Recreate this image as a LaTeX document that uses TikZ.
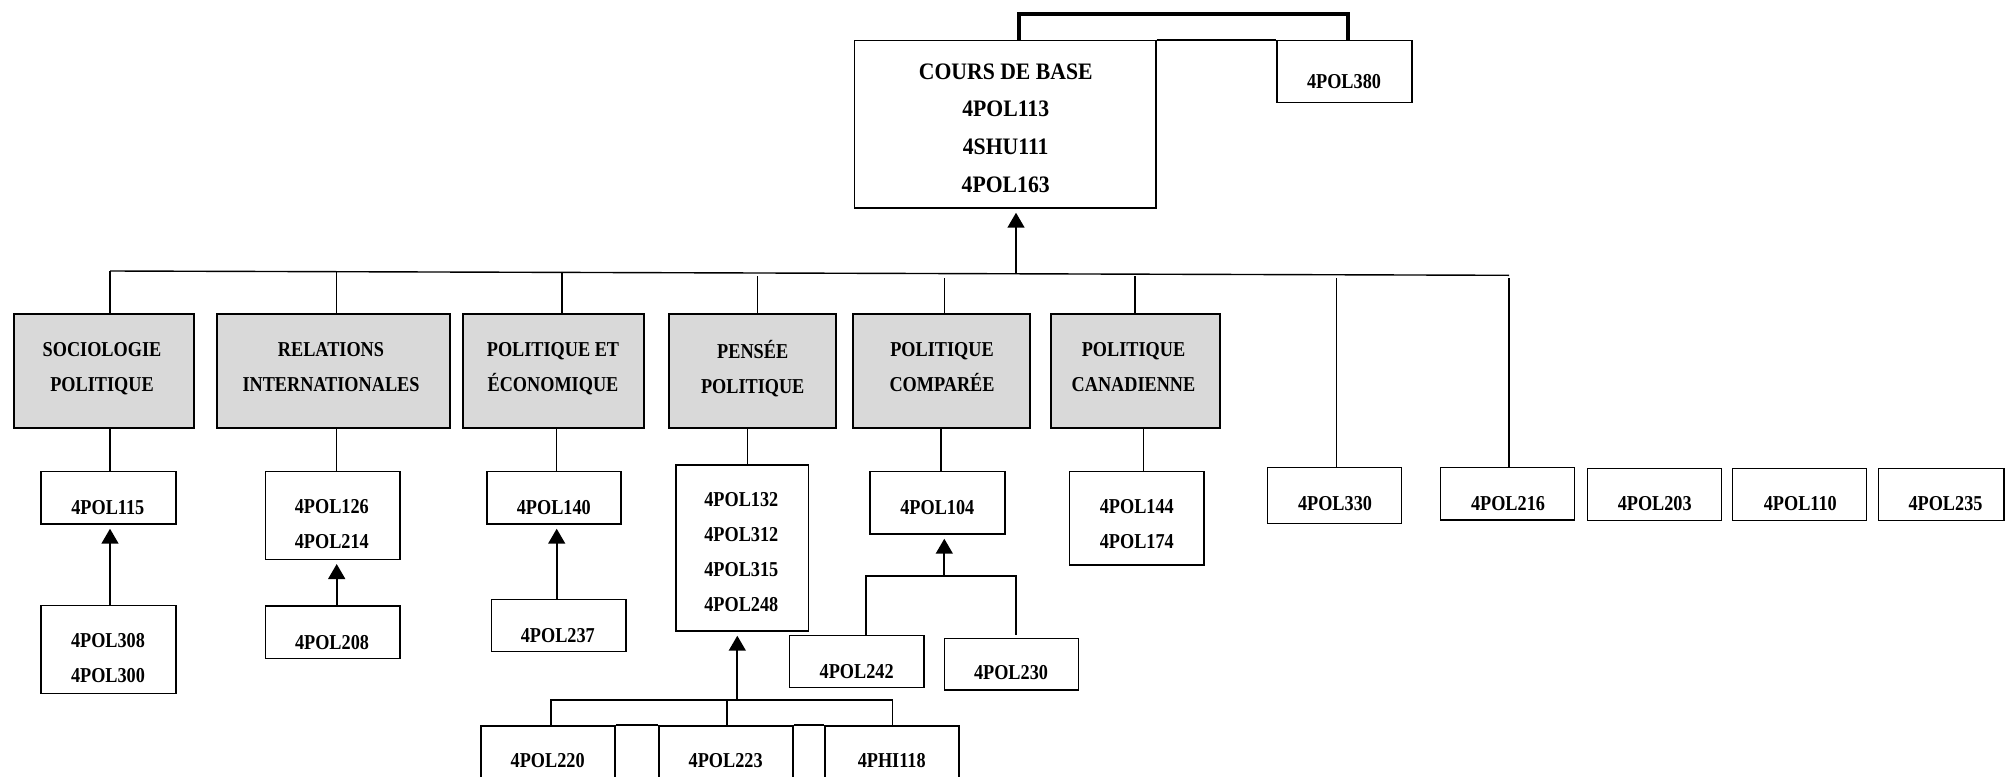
\documentclass[tikz,border=0pt]{standalone}
\usepackage{fontspec}
\newfontfamily\lbf{Liberation Serif}[FakeStretch=0.86]
\newfontfamily\bbf{Liberation Serif}[FakeStretch=0.92]
\usetikzlibrary{arrows.meta,fit}
\definecolor{boxgray}{RGB}{217,217,217}
\newcommand{\lst}{\rule[-3pt]{0pt}{10pt}}
\newcommand{\bst}{\rule[-3pt]{0pt}{10.8pt}}
\begin{document}
\begin{tikzpicture}[x={(0.5pt,0pt)},y={(0pt,-0.5pt)},
  box/.style={draw, line width=0.7pt, inner sep=0pt},
  gbox/.style={draw, fill=boxgray, line width=0.85pt, inner sep=0pt},
  lbl/.style={inner sep=0pt, align=center, yshift=-1.2pt, font=\lbf\bfseries\fontsize{10.6}{17.5}\selectfont},
  blbl/.style={inner sep=0pt, align=center, yshift=-1.3pt, font=\bbf\bfseries\fontsize{11.8}{18.9}\selectfont},
  conn/.style={line width=0.7pt},
  arr/.style={line width=1.1pt, -{Triangle[width=8.4pt,length=7.5pt]}, shorten >=2pt},
  brk/.style={line width=1.65pt}]
\clip (0,0) rectangle (2006,776);
\fill[white] (0,0) rectangle (2006,776);

% ---- top ----
\node[box, fit={(854.7,40.7) (1156,208)}] (base) {};
\node[blbl] (basel) at (1005.7,128.3) {\bst COURS DE BASE\\\bst 4POL113\\\bst 4SHU111\\\bst 4POL163};
\node[box, fit={(1277,40.7) (1412,102.7)}] (p380) {};
\node[lbl] (p380l) at (1344,82) {\lst 4POL380};
\draw[brk] (1019,0 |- base.north) -- (1019,14) -- (1348,14) -- (1348,0 |- p380.north);
\draw[box] (base.north east) -- (p380.north west);

% ---- bus ----
\coordinate (busL) at (110,271);
\coordinate (busR) at (1509,275.3);
\draw[conn] (busL) -- (busR);
\coordinate (busA) at (1016,273.8);
\draw[arr] (busA) -- (1016,0 |- base.south);

% ---- gray category boxes ----
\node[gbox, fit={(14,314) (194,428.3)}] (soc) {};
\node[lbl] (socl) at (102,367.5) {\lst SOCIOLOGIE\\\lst POLITIQUE};
\node[gbox, fit={(217,314) (450,428.3)}] (rel) {};
\node[lbl] (rell) at (331,367.5) {\lst RELATIONS\\\lst INTERNATIONALES};
\node[gbox, fit={(462.7,314) (644,428.3)}] (pe) {};
\node[lbl] (pel) at (553,367.5) {\lst POLITIQUE ET\\\lst ÉCONOMIQUE};
\node[gbox, fit={(669.3,314) (836,428.3)}] (pen) {};
\node[lbl] (penl) at (752.7,367.5) {\lst PENSÉE\\\lst POLITIQUE};
\node[gbox, fit={(853.3,314) (1030,428.3)}] (comp) {};
\node[lbl] (compl) at (942,367.5) {\lst POLITIQUE\\\lst COMPARÉE};
\node[gbox, fit={(1050.7,314) (1220,428.3)}] (can) {};
\node[lbl] (canl) at (1133.5,367.5) {\lst POLITIQUE\\\lst CANADIENNE};

% drops from bus
\draw[conn] (busL) -- (110,0 |- soc.north);
\draw[conn] (336.7,271.7) -- (336.7,0 |- rel.north);
\draw[conn] (562,272.4) -- (562,0 |- pe.north);
\draw[conn] (757.3,276) -- (757.3,0 |- pen.north);
\draw[conn] (944.3,278.3) -- (944.3,0 |- comp.north);
\draw[conn] (1135,276) -- (1135,0 |- can.north);

% ---- course boxes ----
\node[box, fit={(41,471.3) (176,524)}] (p115) {};
\node[lbl] (p115l) at (107.8,508.3) {\lst 4POL115};
\node[box, fit={(41,605.3) (176,693.3)}] (p308) {};
\node[lbl] (p308l) at (108,658.2) {\lst 4POL308\\\lst 4POL300};
\node[box, fit={(265.3,471.3) (400,559.3)}] (p126) {};
\node[lbl] (p126l) at (331.8,524.8) {\lst 4POL126\\\lst 4POL214};
\node[box, fit={(265.3,606) (400,658.3)}] (p208) {};
\node[lbl] (p208l) at (332,643.3) {\lst 4POL208};
\node[box, fit={(487,471.3) (621,524)}] (p140) {};
\node[lbl] (p140l) at (553.8,508) {\lst 4POL140};
\node[box, fit={(491.5,599.3) (626,651.7)}] (p237) {};
\node[lbl] (p237l) at (557.8,636) {\lst 4POL237};
\node[box, fit={(676,465) (808.3,631)}] (p132) {};
\node[lbl] (p132l) at (741.3,552.8) {\lst 4POL132\\\lst 4POL312\\\lst 4POL315\\\lst 4POL248};
\node[box, fit={(870,471.3) (1005,534)}] (p104) {};
\node[lbl] (p104l) at (937.3,508.3) {\lst 4POL104};
\node[box, fit={(789.3,635.7) (924,687.3)}] (p242) {};
\node[lbl] (p242l) at (856.7,671.7) {\lst 4POL242};
\node[box, fit={(944.3,638.3) (1078.7,690)}] (p230) {};
\node[lbl] (p230l) at (1011,673.3) {\lst 4POL230};
\node[box, fit={(1069.3,471.3) (1204,565)}] (p144) {};
\node[lbl] (p144l) at (1136.8,524.2) {\lst 4POL144\\\lst 4POL174};
\node[box, fit={(1267.3,467.3) (1401.7,523.3)}] (p330) {};
\node[lbl] (p330l) at (1335,504) {\lst 4POL330};
\node[box, fit={(1440.7,467.3) (1574.7,520)}] (p216) {};
\node[lbl] (p216l) at (1508,504) {\lst 4POL216};
\node[box, fit={(1587.3,468.3) (1721.3,520.7)}] (p203) {};
\node[lbl] (p203l) at (1654.7,504.3) {\lst 4POL203};
\node[box, fit={(1732.7,468.3) (1866.7,520.7)}] (p110) {};
\node[lbl] (p110l) at (1800.3,504.3) {\lst 4POL110};
\node[box, fit={(1878.3,468.3) (2004,520.7)}] (p235) {};
\node[lbl] (p235l) at (1945.5,504.3) {\lst 4POL235};

% drops to 4POL330 / 4POL216
\draw[conn] (1336.7,278.3) -- (1336.7,0 |- p330.north);
\draw[conn] (busR |- 0,278.3) -- (busR |- p216.north);

% category -> course connectors
\draw[conn] (110,0 |- soc.south) -- (110,0 |- p115.north);
\draw[conn] (336.7,0 |- rel.south) -- (336.7,0 |- p126.north);
\draw[conn] (556.7,0 |- pe.south) -- (556.7,0 |- p140.north);
\draw[conn] (747.7,0 |- pen.south) -- (747.7,0 |- p132.north);
\draw[conn] (941,0 |- comp.south) -- (941,0 |- p104.north);
\draw[conn] (1143.3,0 |- can.south) -- (1143.3,0 |- p144.north);

% prerequisite arrows
\draw[arr] (110,0 |- p308.north) -- (110,0 |- p115.south);
\draw[arr] (336.7,0 |- p208.north) -- (336.7,0 |- p126.south);
\draw[arr] (556.7,0 |- p237.north) -- (556.7,0 |- p140.south);

% comparee junction
\coordinate (jc) at (944.3,576);
\draw[conn] (866,0 |- p242.north) -- (866,576) -- (1016,576) -- (1016,635);
\draw[arr] (jc) -- (944.3,0 |- p104.south);

% bottom group
\node[box, line width=0.8pt, fit={(480.7,726) (615,800)}] (p220) {};
\node[lbl] (p220l) at (547.7,761) {\lst 4POL220};
\node[box, line width=0.8pt, fit={(659,726) (793,800)}] (p223) {};
\node[lbl] (p223l) at (725.7,761) {\lst 4POL223};
\node[box, line width=0.8pt, fit={(824.7,726) (959,800)}] (p118) {};
\node[lbl] (p118l) at (891.7,761) {\lst 4PHI118};
\draw[line width=0.8pt] (p220.north east) -- (p223.north west);
\draw[line width=0.8pt] (p223.north east) -- (p118.north west);
\coordinate (jb) at (737.3,700);
\draw[line width=0.8pt] (551,0 |- p220.north) -- (551,700) -- (892.3,700) -- (892.3,0 |- p118.north);
\draw[line width=0.8pt] (727,700) -- (727,0 |- p223.north);
\draw[arr] (jb) -- (737.3,0 |- p132.south);
\end{tikzpicture}
\end{document}
